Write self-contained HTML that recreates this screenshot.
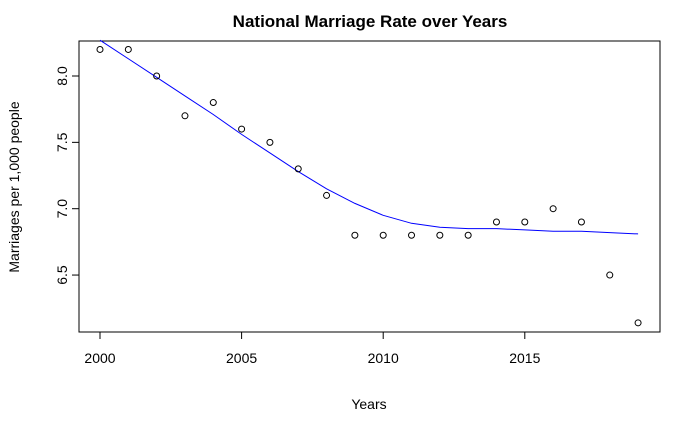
<!DOCTYPE html>
<html><head><meta charset="utf-8"><style>
body{margin:0;background:#fff;}
svg{display:block;font-family:"Liberation Sans",Arial,sans-serif;}
</style></head><body>
<svg id="chart" width="700" height="432" viewBox="0 0 700 432">
<rect x="0" y="0" width="700" height="432" fill="#fff"/>
<text x="370" y="27" text-anchor="middle" font-size="17" font-weight="bold">National Marriage Rate over Years</text>
<rect x="79" y="41" width="581" height="291" fill="none" stroke="#000" stroke-width="1"/>
<g id="xaxis"></g>
<g id="yaxis"></g>
<text x="369" y="409" text-anchor="middle" font-size="14">Years</text>
<text transform="translate(19,187) rotate(-90)" text-anchor="middle" font-size="14">Marriages per 1,000 people</text>
<g id="marks"></g>
</svg>
<script>
const years=[2000,2001,2002,2003,2004,2005,2006,2007,2008,2009,2010,2011,2012,2013,2014,2015,2016,2017,2018,2019];
const rates=[8.2,8.2,8.0,7.7,7.8,7.6,7.5,7.3,7.1,6.8,6.8,6.8,6.8,6.8,6.9,6.9,7.0,6.9,6.5,6.14];
const smoothYears=[2000,2001,2002,2003,2004,2005,2006,2007,2008,2009,2010,2011,2012,2013,2014,2015,2016,2017,2018,2019];
const smoothVals=[8.27,8.13,7.99,7.85,7.71,7.56,7.42,7.28,7.15,7.04,6.95,6.89,6.86,6.85,6.85,6.84,6.83,6.83,6.82,6.81];
const xTicks=[2000,2005,2010,2015];
const yTicks=[6.5,7.0,7.5,8.0];
const yTickLabels=["6.5","7.0","7.5","8.0"];
const NS="http://www.w3.org/2000/svg";
const x=v=>100+(v-2000)*28.32;
const y=v=>76+(8.0-v)*132.7;
function mk(tag,attrs,parent){const e=document.createElementNS(NS,tag);for(const k in attrs)e.setAttribute(k,attrs[k]);parent.appendChild(e);return e;}
const xa=document.getElementById('xaxis'),ya=document.getElementById('yaxis'),m=document.getElementById('marks');
mk('line',{x1:x(xTicks[0]),x2:x(xTicks[xTicks.length-1]),y1:332,y2:332,stroke:'#000'},xa);
xTicks.forEach(t=>{
 const l=mk('line',{x1:x(t),x2:x(t),y1:332,y2:339,stroke:'#000'},xa);
 
 
 const tx=mk('text',{x:x(t),y:363,'text-anchor':'middle','font-size':14},xa);tx.textContent=t;
 
 
});
mk('line',{x1:79,x2:79,y1:y(yTicks[0]),y2:y(yTicks[yTicks.length-1]),stroke:'#000'},ya);
yTicks.forEach((t,i)=>{
 const l=mk('line',{x1:72,x2:79,y1:y(t),y2:y(t),stroke:'#000'},ya);
 
 
 const tx=mk('text',{transform:`translate(67,${y(t)}) rotate(-90)`,'text-anchor':'middle','font-size':14},ya);tx.textContent=yTickLabels[i];
 
 
});
const pl=mk('polyline',{points:smoothYears.map((yr,i)=>x(yr)+','+y(smoothVals[i])).join(' '),fill:'none',stroke:'#0000ff','stroke-width':1},m);


years.forEach((yr,i)=>{
 const c=mk('circle',{cx:x(yr),cy:y(rates[i]),r:3,fill:'none',stroke:'#000','stroke-width':1},m);
 
 
});
</script>
</body></html>
